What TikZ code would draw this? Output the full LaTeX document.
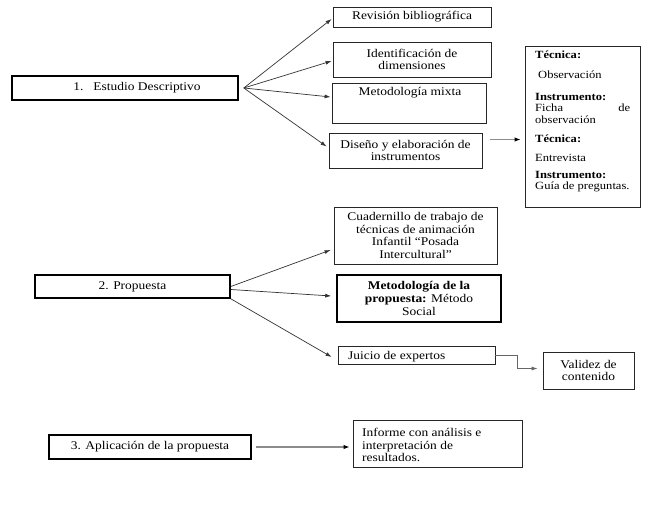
\documentclass[tikz,border=0pt]{standalone}
\usepackage{fontspec}
\setmainfont{Liberation Serif}[FakeStretch=1.14]
\usetikzlibrary{arrows.meta,calc}
\begin{document}
\begin{tikzpicture}[x=1pt,y=-1pt,
 every node/.style={font=\fontsize{11.8}{12.6}\selectfont},
 box/.style={draw=black!85, line width=0.8pt, inner sep=0pt, align=center},
 tbox/.style={draw=black, line width=1.6pt, inner sep=0pt, align=center},
 arr/.style={draw=black!80, line width=0.7pt, -{Latex[length=6pt,width=4pt]}},
 garr/.style={draw=black!45, line width=1.8pt, -{Latex[length=6pt,width=4.5pt,color=black]}},
 txt/.style={inner sep=0pt, anchor=west, align=left},
 stxt/.style={txt, font=\fontsize{11}{12}\selectfont}]
\useasboundingbox (0,0) rectangle (651,511);
% section 1
\node[tbox, minimum width=226, minimum height=24] (b1) at (125,88) {\hspace*{24pt}1.\hspace{10pt}Estudio Descriptivo};
\node[box, minimum width=158, minimum height=20] (rev) at (412,17) {Revisión bibliográfica};
\node[box, minimum width=158, minimum height=35] (ide) at (412,59.5) {Identificación de\\dimensiones};
\node[box, minimum width=154, minimum height=40] (mm) at (409,103) {};
\node[txt, anchor=center] (mmt) at (410,93) {Metodología mixta};
\node[box, minimum width=153, minimum height=35] (dis) at (405.5,150.5) {Diseño y elaboración de\\instrumentos};
\node[box, minimum width=115, minimum height=161] (tec) at (582.5,126.5) {};
\node[stxt] (t1) at (535,55) {\textbf{Técnica:}};
\node[stxt] (t2) at (538,75) {Observación};
\node[stxt] (t3) at (535,97) {\textbf{Instrumento:}};
\node[stxt, text width=95] (t4) at (535,108) {Ficha\hfill de};
\node[stxt] (t5) at (535,120) {observación};
\node[stxt] (t6) at (535,139) {\textbf{Técnica:}};
\node[stxt] (t7) at (535,158) {Entrevista};
\node[stxt] (t8) at (535,175) {\textbf{Instrumento:}};
\node[stxt] (t9) at (535,187) {Guía de preguntas.};
\coordinate (s1) at ($(b1.east)+(5,0)$);
\draw[arr] (s1) -- ($(rev.west)+(-1,2)$);
\draw[arr] (s1) -- ($(ide.west)+(-1,1.5)$);
\draw[arr] (s1) -- ($(mm.west)+(-1,-6)$);
\draw[arr] (s1) -- ($(dis.west)+(-2,-4)$);
\coordinate (d1) at ($(dis.east)+(8,-11)$);
\draw[garr, shorten >=4pt] (d1) -- (d1 -| tec.west);
% section 2
\node[tbox, minimum width=195, minimum height=23] (p2) at (132.5,286.5) {2. Propuesta};
\node[box, minimum width=163, minimum height=57] (cua) at (415.5,235.5) {Cuadernillo de trabajo de\\técnicas de animación\\Infantil ``Posada\\Intercultural''};
\node[tbox, minimum width=164, minimum height=47] (met) at (419,298.5) {\textbf{Metodología de la}\\\textbf{propuesta:} Método\\Social};
\node[box, minimum width=157, minimum height=18] (jui) at (416.5,355) {};
\node[txt] (juit) at (348,357) {Juicio de expertos};
\node[box, minimum width=91, minimum height=37] (val) at (588.5,370.5) {Validez de\\contenido};
\draw[arr] (p2.east) -- ($(cua.west)+(-3,14.5)$);
\draw[arr] ($(p2.east)+(0,3)$) -- ($(met.west)+(-5,-2.5)$);
\draw[arr] (p2.south east) -- ($(jui.west)+(-6,2)$);
\draw[arr, draw=black!60] (jui.east) -- ++(22,0) |- ($(val.west)+(-5,-2)$);
% section 3
\node[tbox, minimum width=202, minimum height=24] (ap) at (150,447) {3. Aplicación de la propuesta};
\node[box, minimum width=169, minimum height=47] (inf) at (437.5,443.5) {};
\node[txt] (inft) at (362,445) {Informe con análisis e\\interpretación de\\resultados.};
\draw[garr, shorten >=3pt] ($(ap.east)+(4,0)$) -- (ap.east -| inf.west);
\end{tikzpicture}
\end{document}
